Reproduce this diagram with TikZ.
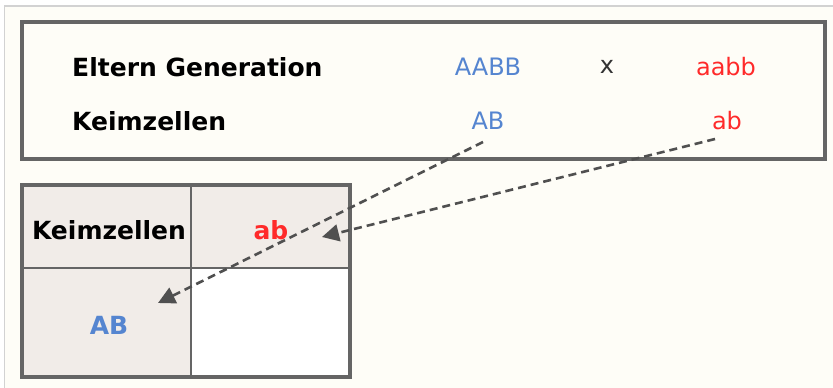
\documentclass[tikz,border=0pt]{standalone}
\usepackage{fontspec}
\setmainfont{DejaVu Sans}
\usetikzlibrary{arrows.meta}
\definecolor{bgcream}{HTML}{FEFDF7}
\definecolor{framegray}{HTML}{D2D2D2}
\definecolor{boxgray}{HTML}{656565}
\definecolor{cellfill}{HTML}{F1ECE8}
\definecolor{genblue}{HTML}{5585D0}
\definecolor{genred}{HTML}{FF2A2A}
\definecolor{dashgray}{HTML}{505050}
\tikzset{
  lbl/.style={font=\fontsize{25}{28}\selectfont\bfseries, text=black, inner sep=0pt},
  gen/.style={font=\fontsize{24}{28}\selectfont, inner sep=0pt},
  celltxt/.style={font=\fontsize{25}{28}\selectfont\bfseries, inner sep=0pt},
  conn/.style={dashgray, line width=2.6pt, dash pattern=on 8pt off 5pt,
    -{Triangle[length=17pt,width=17pt]}},
}
\begin{document}
\begin{tikzpicture}[x=1pt,y=-1pt]
\useasboundingbox (0,0) rectangle (833,388);
\fill[white] (0,0) rectangle (833,388);
\fill[bgcream] (4.5,6) rectangle (833,388);
\draw[framegray, line width=1.5pt] (4.5,388) -- (4.5,6) -- (833,6);
% top box
\draw[boxgray, line width=3.5pt] (22,22) rectangle (825,159);
\node[lbl, anchor=west] (eg) at (72,67) {Eltern Generation};
\node[lbl, anchor=west] (kz) at (72,121) {Keimzellen};
\node[gen, text=genblue] (AABB) at (488,67) {AABB};
\node[gen, text=black!80] (cross) at (607,67) {x};
\node[gen, text=genred] (aabb) at (726,67) {aabb};
\node[gen, text=genblue] (AB) at (488,121) {AB};
\node[gen, text=genred] (ab) at (727,121) {ab};
% table
\fill[cellfill] (22,185) rectangle (350,377);
\fill[white] (191,268) rectangle (350,377);
\draw[boxgray, line width=2.5pt] (191,185) -- (191,377) (22,268) -- (350,268);
\draw[boxgray, line width=3.5pt] (22,185) rectangle (350,377);
\node[celltxt, text=black] (tk) at (109,230) {Keimzellen};
\node[celltxt, text=genred] (tab) at (271,230) {ab};
\node[celltxt, text=genblue] (tAB) at (109,325) {AB};
% connectors
\coordinate (abS) at (715,139);
\coordinate (abE) at (322,237);
\coordinate (ABS) at (483,142);
\coordinate (ABE) at (158,303);
\draw[conn] (abS) -- (abE);
\draw[conn] (ABS) -- (ABE);
\end{tikzpicture}
\end{document}
